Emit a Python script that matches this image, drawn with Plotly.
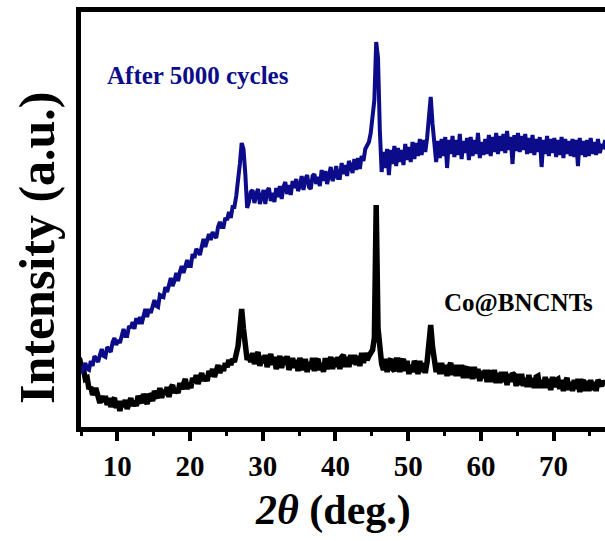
import numpy as np
import plotly.graph_objects as go

# 2-theta scan grid (deg.)
two_theta = [round(4.6 + 0.25 * i, 2) for i in range(291)]

# Co@BNCNTs (black) intensity, arbitrary units
co_bncnts = [
    73, 70, 60, 60, 51, 52, 41, 43,
    35, 40, 40, 31, 27, 34, 28, 34,
    25, 32, 23, 30, 32, 22, 29, 19,
    29, 23, 30, 21, 25, 32, 24, 29,
    24, 34, 30, 27, 36, 29, 26, 36,
    34, 29, 39, 35, 32, 42, 32, 40,
    35, 43, 33, 42, 45, 37, 41, 37,
    47, 41, 46, 51, 41, 47, 42, 52,
    47, 55, 46, 54, 57, 49, 54, 49,
    59, 54, 61, 53, 59, 65, 57, 64,
    59, 67, 63, 70, 65, 71, 68, 76,
    84, 102, 121, 101, 79, 70, 75, 68,
    77, 66, 73, 78, 64, 74, 67, 75,
    63, 72, 76, 65, 73, 61, 70, 74,
    62, 73, 65, 74, 60, 69, 72, 62,
    70, 59, 72, 66, 60, 71, 58, 68,
    61, 72, 59, 69, 71, 60, 67, 58,
    72, 61, 69, 73, 61, 72, 63, 73,
    61, 73, 75, 63, 73, 63, 75, 66,
    75, 65, 74, 64, 77, 67, 77, 70,
    74, 76, 80, 92, 225, 102, 74, 66,
    60, 71, 58, 69, 71, 61, 59, 70,
    70, 58, 67, 71, 59, 69, 56, 65,
    58, 69, 65, 56, 69, 58, 67, 57,
    68, 86, 105, 83, 66, 58, 67, 56,
    67, 56, 65, 54, 63, 67, 55, 65,
    54, 65, 54, 65, 52, 61, 63, 52,
    63, 51, 63, 52, 61, 49, 59, 52,
    60, 48, 57, 59, 48, 60, 47, 57,
    47, 58, 48, 58, 45, 56, 48, 57,
    55, 44, 56, 45, 56, 44, 52, 43,
    55, 43, 52, 42, 53, 54, 42, 50,
    42, 53, 42, 51, 40, 53, 43, 50,
    51, 41, 50, 39, 48, 52, 40, 48,
    39, 50, 41, 51, 38, 48, 50, 39,
    49, 39, 50, 40, 48, 39, 50, 48,
    44, 49, 46,
]

# After 5000 cycles (navy) intensity
after_5000 = [
    59, 63, 57, 63, 67, 61, 60, 69,
    64, 74, 71, 68, 75, 81, 74, 73,
    83, 80, 78, 88, 92, 85, 90, 87,
    95, 101, 94, 94, 104, 102, 108, 101,
    112, 106, 113, 106, 114, 121, 113, 121,
    117, 125, 130, 124, 123, 135, 134, 133,
    143, 138, 145, 152, 144, 149, 157, 149,
    158, 164, 157, 164, 170, 164, 164, 176,
    172, 181, 179, 175, 186, 191, 183, 191,
    196, 190, 198, 194, 192, 203, 208, 203,
    203, 212, 210, 218, 212, 223, 223, 234,
    247, 266, 287, 281, 256, 222, 228, 238,
    240, 227, 236, 241, 226, 232, 240, 226,
    239, 242, 229, 237, 228, 242, 233, 244,
    231, 243, 248, 236, 245, 235, 249, 242,
    251, 239, 244, 254, 240, 251, 255, 243,
    241, 254, 256, 246, 253, 244, 260, 249,
    259, 246, 257, 263, 249, 254, 264, 252,
    252, 267, 256, 265, 254, 269, 264, 257,
    271, 260, 272, 261, 274, 269, 281, 284,
    288, 297, 312, 330, 388, 372, 300, 258,
    278, 262, 281, 255, 280, 266, 284, 264,
    282, 268, 280, 265, 286, 270, 283, 268,
    288, 271, 287, 274, 291, 275, 290, 278,
    292, 312, 333, 306, 283, 268, 289, 272,
    291, 274, 293, 262, 290, 276, 294, 273,
    290, 275, 296, 271, 289, 277, 292, 270,
    293, 274, 290, 276, 297, 272, 288, 275,
    291, 276, 295, 274, 293, 278, 297, 276,
    294, 279, 296, 277, 299, 280, 293, 266,
    295, 279, 297, 278, 294, 280, 296, 276,
    292, 277, 295, 275, 291, 278, 293, 263,
    290, 276, 294, 274, 291, 277, 292, 273,
    290, 275, 293, 272, 291, 276, 289, 274,
    291, 273, 290, 264, 292, 275, 289, 273,
    290, 274, 292, 276, 288, 275, 291, 277,
    284, 283, 290,
]

major_ticks = [10, 20, 30, 40, 50, 60, 70]
minor_ticks = [5, 15, 25, 35, 45, 55, 65, 75]
label_after = "After 5000 cycles"
label_co = "Co@BNCNTs"

NAVY = "#0c0c8a"
FONT = "Liberation Serif"
X_RANGE = [5, 77.07]

fig = go.Figure()
fig.add_trace(go.Scatter(x=two_theta, y=after_5000, mode="lines", xaxis="x2",
                         line=dict(color=NAVY, width=4), showlegend=False))
fig.add_trace(go.Scatter(x=two_theta, y=co_bncnts, mode="lines",
                         line=dict(color="black", width=5.5), showlegend=False))

fig.update_layout(
    width=605, height=541,
    margin=dict(l=81, r=0, t=12, b=114),
    paper_bgcolor="white", plot_bgcolor="white",
    xaxis=dict(
        range=X_RANGE, showgrid=False, zeroline=False,
        showline=True, linewidth=5, linecolor="black", mirror=True,
        tickmode="array", tickvals=major_ticks, ticktext=[str(t) for t in major_ticks],
        ticks="outside", ticklen=9, tickwidth=4, tickcolor="black",
        tickfont=dict(family=FONT, size=29, color="black", weight="bold"),
    ),
    xaxis2=dict(
        range=X_RANGE, overlaying="x", anchor="y", side="bottom",
        showgrid=False, zeroline=False,
        showline=True, linewidth=5, linecolor="black",
        tickmode="array", tickvals=minor_ticks, showticklabels=False,
        ticks="outside", ticklen=4, tickwidth=3, tickcolor="black",
    ),
    yaxis=dict(
        range=[3, 418], showgrid=False, zeroline=False,
        showline=True, linewidth=5, linecolor="black", mirror=False,
        showticklabels=False, ticks="",
    ),
    annotations=[
        dict(text="<b>" + label_after + "</b>", x=8.3, y=355, xref="x", yref="y",
             xanchor="left", yanchor="middle", showarrow=False,
             font=dict(family=FONT, size=25, color=NAVY)),
        dict(text="<b>" + label_co + "</b>", x=54.66, y=127, xref="x", yref="y",
             xanchor="left", yanchor="middle", showarrow=False,
             font=dict(family=FONT, size=25, color="black")),
        dict(text="<b><i>2θ</i> (deg.)</b>", x=0.481, y=-0.202, xref="paper", yref="paper",
             xanchor="center", yanchor="middle", showarrow=False,
             font=dict(family=FONT, size=42, color="black")),
        dict(text="<b>Intensity (a.u.)</b>", x=-0.0853, y=0.432, xref="paper", yref="paper",
             xanchor="center", yanchor="middle", showarrow=False, textangle=-90,
             font=dict(family=FONT, size=50, color="black")),
    ],
)

fig.write_html("out.html")
